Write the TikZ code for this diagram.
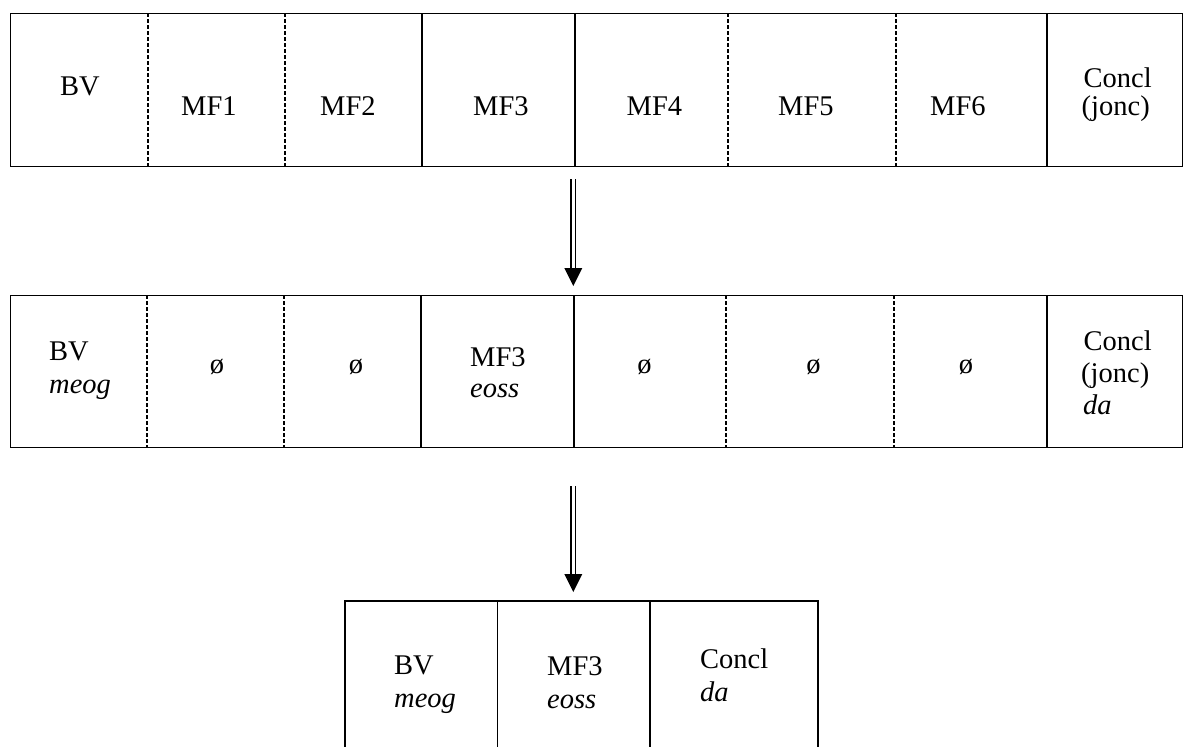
\documentclass[tikz,border=0pt]{standalone}
\usepackage{fontspec}
\setmainfont{Liberation Serif}
\begin{document}
\begin{tikzpicture}[x=1pt,y=-1pt,
  frame/.style={line width=1.1pt},
  soliddiv/.style={line width=1.5pt},
  dashdiv/.style={line width=1.3pt, dash pattern=on 4pt off 2pt},
  lbl/.style={anchor=base west, inner sep=0pt, font=\fontsize{28.5}{32.7}\selectfont},
  clbl/.style={anchor=base, inner sep=0pt, font=\fontsize{28.5}{32.7}\selectfont},
  shaft/.style={double, double distance=3.4pt, line width=1.3pt},
  arrowhead/.style={fill=black}]
\useasboundingbox (0,0) rectangle (1192,747);
\fill[white] (0,0) rectangle (1192,747);
% ---------- row 1 ----------
\node[draw, frame, minimum width=1172pt, minimum height=153pt, anchor=north west, inner sep=0pt] (row1) at (10,13) {};
\draw[dashdiv] (148,13) -- (148,166);
\draw[dashdiv] (285,13) -- (285,166);
\draw[soliddiv] (422,13) -- (422,166);
\draw[soliddiv] (575,13) -- (575,166);
\draw[dashdiv] (728,13) -- (728,166);
\draw[dashdiv] (896,13) -- (896,166);
\draw[soliddiv] (1047,13) -- (1047,166);
\node[lbl] (r1bv) at (60,95) {BV};
\node[lbl] (r1mf1) at (181,115) {MF1};
\node[lbl] (r1mf2) at (320,115) {MF2};
\node[lbl] (r1mf3) at (473,115) {MF3};
\node[lbl] (r1mf4) at (626.5,115) {MF4};
\node[lbl] (r1mf5) at (778,115) {MF5};
\node[lbl] (r1mf6) at (930,115) {MF6};
\node[lbl] (r1concl) at (1083.5,87) {Concl};
\node[lbl] (r1jonc) at (1081.5,115) {(jonc)};
% ---------- arrow 1 ----------
\coordinate (a1s) at (573.3,179);
\coordinate (a1h) at (573.3,269);
\coordinate (a1t) at (573.3,286);
\draw[shaft] (a1s) -- (a1h);
\fill[arrowhead] (a1t) -- ++(-9,-18) -- ++(18,0) -- cycle;
% ---------- row 2 ----------
\node[draw, frame, minimum width=1172pt, minimum height=152pt, anchor=north west, inner sep=0pt] (row2) at (10,295) {};
\draw[dashdiv] (147,295) -- (147,447);
\draw[dashdiv] (284,295) -- (284,447);
\draw[soliddiv] (421,295) -- (421,447);
\draw[soliddiv] (574,295) -- (574,447);
\draw[dashdiv] (726,295) -- (726,447);
\draw[dashdiv] (894,295) -- (894,447);
\draw[soliddiv] (1047,295) -- (1047,447);
\node[lbl] (r2bv) at (49,360) {BV};
\node[lbl] (r2meog) at (49,393) {\itshape meog};
\node[clbl] (r2e1) at (217,373) {ø};
\node[clbl] (r2e2) at (356,373) {ø};
\node[lbl] (r2mf3) at (470,366) {MF3};
\node[lbl] (r2eoss) at (470,397) {\itshape eoss};
\node[clbl] (r2e3) at (644.6,373) {ø};
\node[clbl] (r2e4) at (813.5,373) {ø};
\node[clbl] (r2e5) at (966,373) {ø};
\node[lbl] (r2concl) at (1083.5,350) {Concl};
\node[lbl] (r2jonc) at (1081,382) {(jonc)};
\node[lbl] (r2da) at (1083,414) {\itshape da};
% ---------- arrow 2 ----------
\coordinate (a2s) at (573.3,486);
\coordinate (a2h) at (573.3,575);
\coordinate (a2t) at (573.3,592);
\draw[shaft] (a2s) -- (a2h);
\fill[arrowhead] (a2t) -- ++(-9,-18) -- ++(18,0) -- cycle;
% ---------- row 3 ----------
\draw[frame] (345,760) -- (345,601) -- (818,601) -- (818,760);
\draw[soliddiv] (497.5,601) -- (497.5,760);
\draw[soliddiv] (650,601) -- (650,760);
\node[lbl] (r3bv) at (394,674) {BV};
\node[lbl] (r3meog) at (394,707) {\itshape meog};
\node[lbl] (r3mf3) at (547,675) {MF3};
\node[lbl] (r3eoss) at (547,708) {\itshape eoss};
\node[lbl] (r3concl) at (700,668) {Concl};
\node[lbl] (r3da) at (700,701) {\itshape da};
\end{tikzpicture}
\end{document}
